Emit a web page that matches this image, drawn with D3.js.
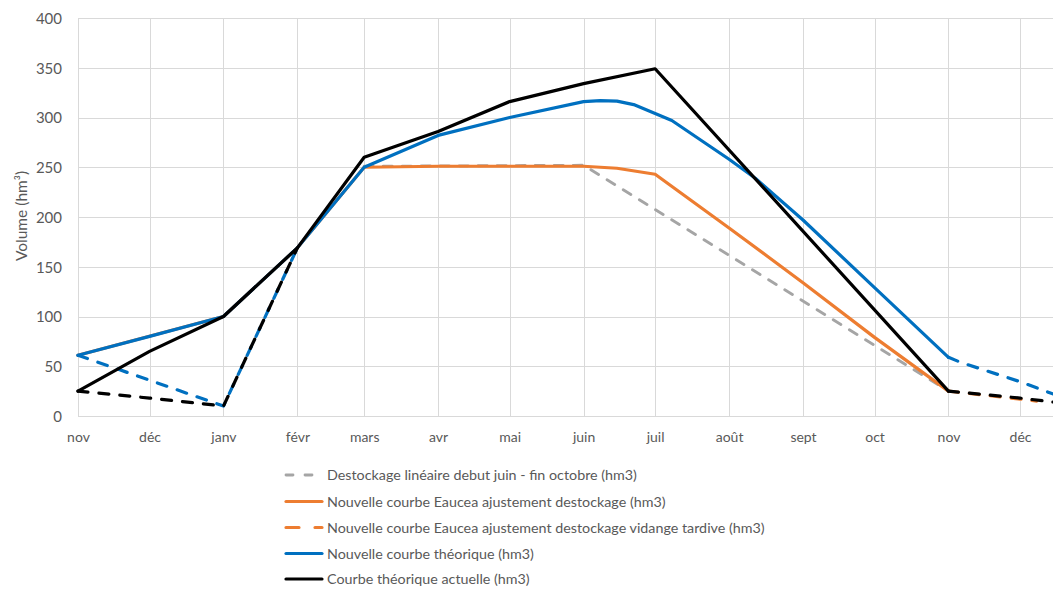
<!DOCTYPE html>
<html>
<head>
<meta charset="utf-8">
<script src="https://cdn.jsdelivr.net/npm/d3@7"></script>
<style>
  html, body { margin: 0; padding: 0; background: #fff; }
  svg { display: block; }
  text { font-family: Lato, "Noto Sans", sans-serif; fill: #595959; }
</style>
</head>
<body>
<svg id="chart" width="1053" height="590"></svg>
<script>
// Month ticks (Nov → Dec of the following year)
const monthLabels = ["nov", "déc", "janv", "févr", "mars", "avr", "mai", "juin", "juil", "août", "sept", "oct", "nov", "déc"];
const yTicks = [0, 50, 100, 150, 200, 250, 300, 350, 400];

// Destockage linéaire début juin - fin octobre
const grayDates  = ["2023-03-01", "2023-06-01", "2023-11-01"];
const grayValues = [251, 252, 25];

// Nouvelle courbe Eaucea ajustement destockage
const orangeDates  = ["2022-11-01", "2023-01-01", "2023-02-01", "2023-03-01", "2023-04-01", "2023-06-01", "2023-06-15", "2023-07-01", "2023-08-01", "2023-09-01", "2023-10-01", "2023-11-01"];
const orangeValues = [61, 100, 169, 250, 251, 251, 249, 243, 189, 134, 79, 25];

// ... vidange tardive
const orangeLateDates  = ["2023-11-01", "2023-12-01", "2023-12-08"];
const orangeLateValues = [25, 17, 15];

// Nouvelle courbe théorique
const blueDates  = ["2022-11-01", "2022-12-01", "2023-01-01", "2023-02-01", "2023-03-01", "2023-04-01", "2023-05-01", "2023-06-01", "2023-06-08", "2023-06-15", "2023-06-22", "2023-07-01", "2023-07-08", "2023-08-01", "2023-08-12", "2023-09-01", "2023-10-01", "2023-11-01"];
const blueValues = [61, 80, 100, 169, 250, 282, 300, 316, 317, 316.5, 313, 304, 297, 258, 239, 197, 129, 59];
const blueEarlyDates  = ["2022-11-01", "2022-12-01", "2023-01-01", "2023-02-01"];
const blueEarlyValues = [61, 36, 10, 169];
const blueLateDates  = ["2023-11-01", "2023-11-06", "2023-12-01", "2023-12-15"];
const blueLateValues = [59, 54, 34.5, 22];

// Courbe théorique actuelle
const blackDates  = ["2022-11-01", "2022-12-01", "2023-01-01", "2023-02-01", "2023-03-01", "2023-04-01", "2023-05-01", "2023-06-01", "2023-07-01", "2023-11-01"];
const blackValues = [25, 65, 100, 169, 260, 286, 316, 334, 349, 25];
const blackEarlyDates  = ["2022-11-01", "2022-12-01", "2023-01-01", "2023-02-01"];
const blackEarlyValues = [25, 18, 10, 169];
const blackLateDates  = ["2023-11-01", "2023-12-01", "2023-12-15"];
const blackLateValues = [25, 18, 14];

const legendLabels = [
  "Destockage linéaire debut juin - fin octobre (hm3)",
  "Nouvelle courbe Eaucea ajustement destockage (hm3)",
  "Nouvelle courbe Eaucea ajustement destockage vidange tardive (hm3)",
  "Nouvelle courbe théorique (hm3)",
  "Courbe théorique actuelle (hm3)"
];

const C = { gray: "#A5A5A5", orange: "#ED7D31", blue: "#0070C0", black: "#000000", grid: "#D9D9D9" };
const DASH = "10,11";

const parse = d3.timeParse("%Y-%m-%d");
const svg = d3.select("#chart");

const x = d3.scaleTime()
  .domain([parse("2022-11-01"), parse("2023-12-15")])
  .range([78, 1053.4]);
const y = d3.scaleLinear().domain([0, 400]).range([416, 18]);

const monthTicks = d3.timeMonth.range(parse("2022-11-01"), parse("2023-12-02"));

// Grid
const grid = svg.append("g").attr("shape-rendering", "crispEdges");
grid.selectAll(".h").data(yTicks).join("line")
  .attr("x1", 78).attr("x2", 1053)
  .attr("y1", d => Math.round(y(d)) + 0.5).attr("y2", d => Math.round(y(d)) + 0.5)
  .attr("stroke", C.grid).attr("stroke-width", 1.3);
grid.selectAll(".v").data(monthTicks).join("line")
  .attr("x1", d => Math.round(x(d)) + 0.5).attr("x2", d => Math.round(x(d)) + 0.5)
  .attr("y1", 18).attr("y2", 416)
  .attr("stroke", C.grid).attr("stroke-width", 1.3);

// Axes
const xAxis = d3.axisBottom(x).tickValues(monthTicks)
  .tickFormat((d, i) => monthLabels[i]).tickSize(0).tickPadding(0);
const gx = svg.append("g").attr("transform", "translate(0,416)").call(xAxis);
gx.select(".domain").remove();
gx.selectAll("text").attr("dy", null).attr("y", 26).style("font-size", "14px").attr("fill", "#595959");

const yAxis = d3.axisLeft(y).tickValues(yTicks).tickSize(0).tickPadding(0);
const gy = svg.append("g").attr("transform", "translate(62,0)").call(yAxis);
gy.select(".domain").remove();
gy.selectAll("text").attr("dy", "0.36em").attr("x", 0).style("font-size", "15px").attr("fill", "#595959");

svg.append("text")
  .attr("transform", "translate(27,216) rotate(-90)")
  .attr("text-anchor", "middle")
  .style("font-size", "15.5px")
  .text("Volume (hm³)");

// Series
svg.append("clipPath").attr("id", "plot")
  .append("rect").attr("x", 70).attr("y", 10).attr("width", 983.4).attr("height", 420);

const plot = svg.append("g").attr("clip-path", "url(#plot)");
const line = d3.line().x(d => x(d[0])).y(d => y(d[1]));
const zipSeries = (ds, vs) => ds.map((d, i) => [parse(d), vs[i]]);

function draw(ds, vs, color, dash, width) {
  plot.append("path")
    .datum(zipSeries(ds, vs))
    .attr("d", line)
    .attr("fill", "none")
    .attr("stroke", color)
    .attr("stroke-width", width || 3.2)
    .attr("stroke-linejoin", "round")
    .attr("stroke-linecap", "round")
    .attr("stroke-dasharray", dash || null);
}

draw(grayDates, grayValues, C.gray, "9,10", 2.8);
draw(orangeDates, orangeValues, C.orange);
draw(orangeLateDates, orangeLateValues, C.orange, DASH);
draw(blueDates, blueValues, C.blue);
draw(blueEarlyDates, blueEarlyValues, C.blue, DASH);
draw(blueLateDates, blueLateValues, C.blue, DASH);
draw(blackDates, blackValues, C.black);
draw(blackEarlyDates, blackEarlyValues, C.black, DASH);
draw(blackLateDates, blackLateValues, C.black, DASH);

// Legend
const legendStyles = [
  { color: C.gray, dash: "7,12", width: 2.8 },
  { color: C.orange, dash: null, width: 3.2 },
  { color: C.orange, dash: "13,16", width: 3.2 },
  { color: C.blue, dash: null, width: 3.2 },
  { color: C.black, dash: null, width: 3.2 }
];
const legendY = [475, 501.5, 527.5, 553.5, 579];
const lg = svg.append("g");
legendLabels.forEach((label, i) => {
  const s = legendStyles[i];
  lg.append("line")
    .attr("x1", 286).attr("x2", 322)
    .attr("y1", legendY[i]).attr("y2", legendY[i])
    .attr("stroke", s.color).attr("stroke-width", s.width)
    .attr("stroke-linecap", "round")
    .attr("stroke-dasharray", s.dash);
  lg.append("text")
    .attr("x", 327).attr("y", legendY[i])
    .attr("dy", "0.35em")
    .style("font-size", "14.3px")
    .text(label);
});
</script>
</body>
</html>
